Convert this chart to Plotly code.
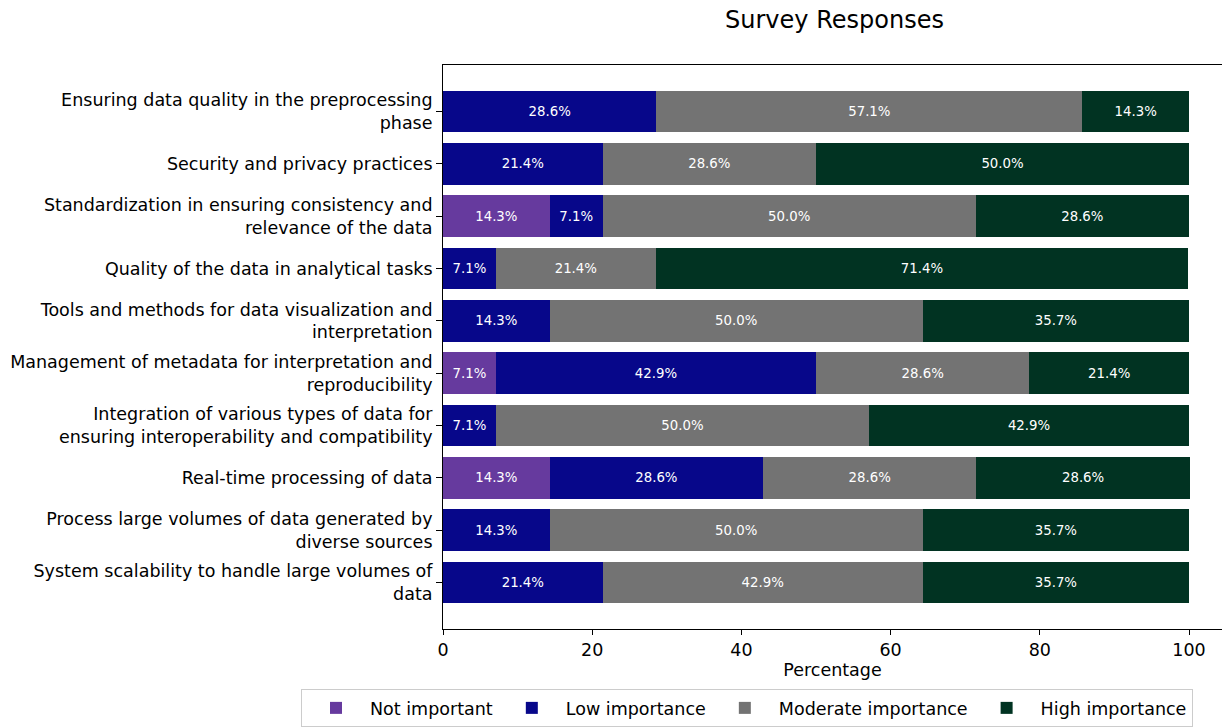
import plotly.graph_objects as go

# Survey statements, top to bottom
categories = [
    "Ensuring data quality in the preprocessing<br>phase",
    "Security and privacy practices",
    "Standardization in ensuring consistency and<br>relevance of the data",
    "Quality of the data in analytical tasks",
    "Tools and methods for data visualization and<br>interpretation",
    "Management of metadata for interpretation and<br>reproducibility",
    "Integration of various types of data for<br>ensuring interoperability and compatibility",
    "Real-time processing of data",
    "Process large volumes of data generated by<br>diverse sources",
    "System scalability to handle large volumes of<br>data",
]

# Share of respondents (%) per importance level
not_important = [0, 0, 14.3, 0, 0, 7.1, 0, 14.3, 0, 0]
low_importance = [28.6, 21.4, 7.1, 7.1, 14.3, 42.9, 7.1, 28.6, 14.3, 21.4]
moderate_importance = [57.1, 28.6, 50.0, 21.4, 50.0, 28.6, 50.0, 28.6, 50.0, 42.9]
high_importance = [14.3, 50.0, 28.6, 71.4, 35.7, 21.4, 42.9, 28.6, 35.7, 35.7]

series = [
    ("Not important", not_important, "#663a9e"),
    ("Low importance", low_importance, "#07078a"),
    ("Moderate importance", moderate_importance, "#737373"),
    ("High importance", high_importance, "#013322"),
]

FONT = "DejaVu Sans, Verdana, sans-serif"
LABEL_SIZE = 17.5
positions = list(range(len(categories)))

# plot area in pixels
PLOT_L, PLOT_T, PLOT_B = 443, 65, 629
PLOT_W = 1222 - PLOT_L
PLOT_H = PLOT_B - PLOT_T

fig = go.Figure()
for name, values, color in series:
    fig.add_trace(go.Bar(
        name=name,
        y=positions,
        x=values,
        orientation="h",
        width=0.8,
        marker=dict(color=color, line=dict(width=0)),
        text=[f"{v:.1f}%" if v > 0 else "" for v in values],
        textposition="inside",
        insidetextanchor="middle",
        textangle=0,
        constraintext="none",
        textfont=dict(color="white", size=13.3, family=FONT),
        hoverinfo="x+name",
    ))

fig.update_layout(
    barmode="stack",
    width=1222,
    height=728,
    margin=dict(l=PLOT_L, r=0, t=PLOT_T, b=728 - PLOT_B, autoexpand=False),
    paper_bgcolor="white",
    plot_bgcolor="white",
    font=dict(family=FONT, size=LABEL_SIZE, color="black"),
    title=dict(
        text="Survey Responses",
        x=(443 + 1226) / 2 / 1222,
        xanchor="center",
        y=1 - 20 / 728,
        yanchor="middle",
        font=dict(size=24, family=FONT, color="black"),
    ),
    xaxis=dict(
        range=[0, 104.42],
        tickvals=[0, 20, 40, 60, 80, 100],
        ticks="outside",
        ticklen=5,
        tickcolor="black",
        showline=True,
        linecolor="black",
        linewidth=1,
        mirror=True,
        showgrid=False,
        zeroline=False,
        tickfont=dict(size=LABEL_SIZE),
        title=dict(text="Percentage", font=dict(size=LABEL_SIZE), standoff=4),
    ),
    yaxis=dict(
        range=[9.89, -0.89],
        tickvals=positions,
        ticktext=categories,
        ticks="outside",
        ticklen=6,
        tickcolor="black",
        showline=True,
        linecolor="black",
        linewidth=1,
        showgrid=False,
        zeroline=False,
        tickfont=dict(size=LABEL_SIZE),
    ),
    legend=dict(
        orientation="h",
        traceorder="normal",
        x=(301 - PLOT_L) / PLOT_W,
        xanchor="left",
        y=-(689 - PLOT_B) / PLOT_H,
        yanchor="top",
        bordercolor="#cccccc",
        borderwidth=1,
        font=dict(size=LABEL_SIZE),
        itemsizing="constant",
        itemwidth=58,
    ),
)

fig.write_html("out.html")
